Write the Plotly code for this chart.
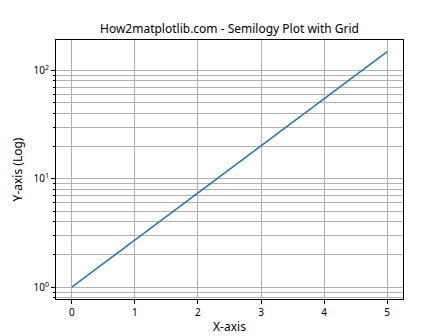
import plotly.graph_objects as go

x_vals = [0, 1, 2, 3, 4, 5]
y_vals = [1.0, 2.718, 7.389, 20.09, 54.60, 148.4]
x_ticks = [0, 1, 2, 3, 4, 5]
y_ticks = [1, 10, 100]
y_tick_text = ["10<sup>0</sup>", "10<sup>1</sup>", "10<sup>2</sup>"]
minor_vals = [m * d for d in (0.1, 1, 10, 100) for m in range(2, 10)]

FONT = "Noto Sans"
GRID = "#b0b0b0"

fig = go.Figure()
fig.add_trace(go.Scatter(x=x_vals, y=y_vals, mode="lines",
                         line=dict(color="#1f77b4", width=1.5), showlegend=False))

fig.update_layout(
    width=448, height=336,
    margin=dict(l=56, r=45, t=40, b=37, autoexpand=False),
    paper_bgcolor="white", plot_bgcolor="white",
    font=dict(family=FONT, size=10, color="black"),
    title=dict(text="How2matplotlib.com - Semilogy Plot with Grid",
               x=0.5, xref="paper", y=1 - 29 / 336, yref="container",
               xanchor="center", yanchor="middle",
               font=dict(family=FONT, size=12, color="black")),
)
fig.update_xaxes(
    range=[-0.25, 5.25], tickvals=x_ticks, ticks="outside", ticklen=4,
    tickwidth=1, tickcolor="black", showline=True, linecolor="black",
    linewidth=1, mirror=True, showgrid=True, gridcolor=GRID, gridwidth=0.8,
    zeroline=False, title=dict(text="X-axis", standoff=4), automargin=False,
    tickfont=dict(size=10),
)
fig.update_yaxes(
    type="log", range=[-0.1086, 2.2794], tickvals=y_ticks, ticktext=y_tick_text,
    ticks="outside", ticklen=4, tickwidth=1, tickcolor="black",
    showline=True, linecolor="black", linewidth=1, mirror=True,
    showgrid=True, gridcolor=GRID, gridwidth=0.8, zeroline=False,
    minor=dict(tickmode="array", tickvals=minor_vals, ticks="outside",
               ticklen=2, tickcolor="black", showgrid=True,
               gridcolor=GRID, gridwidth=0.8),
    title=dict(text="Y-axis (Log)", standoff=8), automargin=False,
    tickfont=dict(size=10),
)

fig.write_html("out.html")
